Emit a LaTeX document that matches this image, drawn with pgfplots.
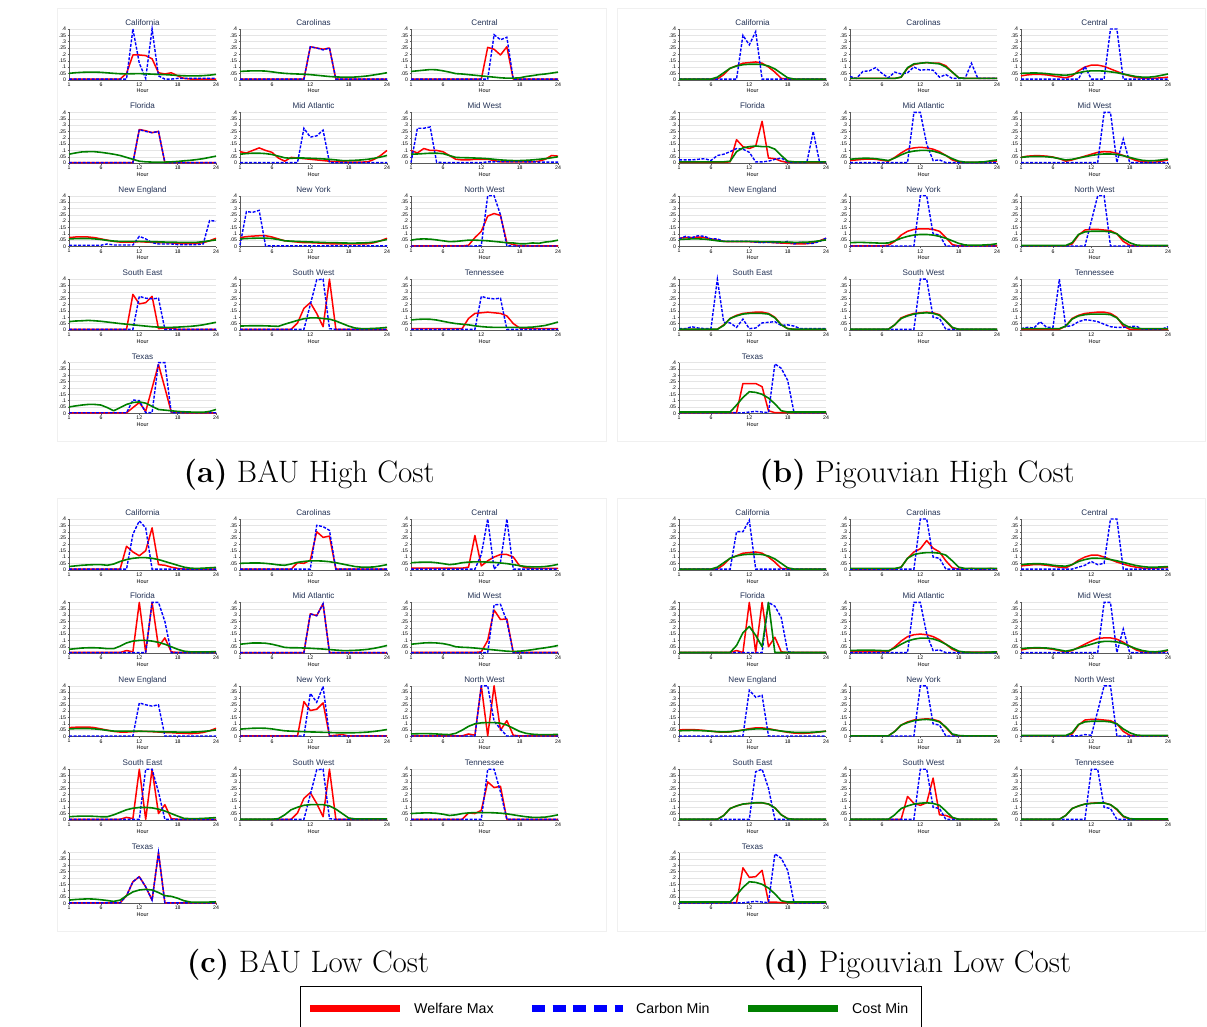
\documentclass[border=0pt]{standalone}
\usepackage{pgfplots}
\pgfplotsset{compat=1.18}
\usepackage{fontspec}
\newfontfamily\plotfont{Liberation Sans}

\definecolor{wmax}{RGB}{255,0,0}
\definecolor{cmin}{RGB}{0,0,255}
\definecolor{costmin}{RGB}{0,128,0}
\definecolor{ttl}{RGB}{35,50,85}
\definecolor{axisgray}{RGB}{90,90,90}

\pgfplotsset{
  hourplot/.style={
    scale only axis, width=147pt, height=50.7pt,
    xmin=1, xmax=24, ymin=0, ymax=0.4,
    clip=false,
    axis x line*=bottom, axis y line*=left,
    axis line style={-, draw=axisgray, line width=0.35pt},
    xtick={1,6,12,18,24}, xticklabels={1,6,12,18,24},
    ytick={0,0.05,0.1,0.15,0.2,0.25,0.3,0.35,0.4},
    yticklabels={0,.05,.1,.15,.2,.25,.3,.35,.4},
    ymajorgrids, major grid style={draw=black!10, line width=0.35pt},
    tick align=outside, major tick length=1.5pt,
    tick style={draw=axisgray, line width=0.35pt},
    tick label style={font=\plotfont\fontsize{5.2}{6}\selectfont, inner sep=0pt},
    xticklabel style={anchor=north, yshift=-1.2pt},
    yticklabel style={anchor=east, xshift=-1.2pt},
    xlabel={Hour},
    xlabel style={font=\plotfont\fontsize{5.5}{6}\selectfont, at={(axis description cs:0.5,0)}, anchor=base, yshift=-13.3pt, inner sep=0pt},
    title style={font=\plotfont\fontsize{8.1}{9}\selectfont, text=ttl, at={(axis description cs:0.5,1)}, anchor=base, yshift=-2.5pt, inner sep=0pt},
    anchor=south west,
  },
  wm/.style={color=wmax, line width=1.5pt, line join=round, no markers},
  cm/.style={color=cmin, line width=1.4pt, dash pattern=on 3pt off 1.5pt, no markers},
  co/.style={color=costmin, line width=1.6pt, line join=round, no markers},
}

% one hourly series: #1 plot style, #2 the 24 hourly values
\newcommand\hourly[2]{%
  \gdef\hourcoords{}%
  \foreach \v [count=\h] in {#2}{\xdef\hourcoords{\hourcoords(\h,\v)}}%
  \edef\next{\noexpand\addplot[#1] coordinates {\hourcoords};}\next}

% one region: #1 x of the plot box, #2 depth of its zero line,
% #3 region name, #4 welfare max, #5 carbon min, #6 cost min
\newcommand\region[6]{%
  \begin{axis}[hourplot, at={(#1pt,-#2pt)}, title={#3}]
    \hourly{wm}{#4}
    \hourly{cm}{#5}
    \hourly{co}{#6}
  \end{axis}}

\begin{document}
\begin{tikzpicture}
\path[use as bounding box] (0pt,0pt) rectangle (1207pt,-1027pt);
\fill[white] (0pt,0pt) rectangle (1207pt,-1027pt);

% panel frames
\draw[black!6, line width=0.6pt] (57pt,-8pt) rectangle (606pt,-441pt);
\draw[black!6, line width=0.6pt] (617pt,-8pt) rectangle (1205pt,-441pt);
\draw[black!6, line width=0.6pt] (57pt,-498pt) rectangle (606pt,-931pt);
\draw[black!6, line width=0.6pt] (617pt,-498pt) rectangle (1205pt,-931pt);

%%%%%%%%%%%%%%%% (a) BAU High Cost
\region{69}{79.7}{California}
 {.005,.005,.005,.005,.005,.005,.005,.005,.005,.05,.195,.195,.19,.165,.055,.045,.055,.03,.01,.005,.005,.005,.005,.005}
 {.005,.005,.005,.005,.005,.005,.005,.005,.005,.005,.4,.13,.01,.4,.03,.005,.005,.01,.01,.01,.01,.01,.01,.01}
 {.05,.055,.058,.06,.06,.058,.054,.05,.047,.046,.047,.048,.046,.044,.042,.04,.037,.034,.031,.03,.03,.032,.036,.042}
\region{240}{79.7}{Carolinas}
 {.004,.004,.004,.004,.004,.004,.004,.004,.004,.004,.004,.26,.25,.24,.25,.004,.004,.004,.004,.004,.004,.004,.004,.004}
 {.004,.004,.004,.004,.004,.004,.004,.004,.004,.004,.004,.26,.25,.235,.25,.004,.004,.004,.004,.004,.004,.004,.004,.004}
 {.065,.068,.07,.07,.068,.062,.055,.05,.047,.045,.043,.04,.035,.03,.025,.022,.02,.02,.021,.025,.03,.038,.046,.055}
\region{411}{79.7}{Central}
 {.004,.004,.004,.004,.004,.004,.004,.004,.004,.004,.004,.004,.255,.24,.195,.26,.004,.004,.004,.004,.004,.004,.004,.004}
 {.004,.004,.004,.004,.004,.004,.004,.004,.004,.004,.004,.004,.004,.355,.315,.335,.004,.004,.004,.004,.004,.004,.004,.004}
 {.065,.07,.075,.08,.078,.07,.06,.048,.045,.04,.035,.03,.025,.02,.015,.012,.012,.015,.025,.032,.04,.045,.052,.06}
\region{69}{163.1}{Florida}
 {.004,.004,.004,.004,.004,.004,.004,.004,.004,.004,.004,.265,.255,.24,.25,.004,.004,.004,.004,.004,.004,.004,.004,.004}
 {.004,.004,.004,.004,.004,.004,.004,.004,.004,.004,.004,.265,.25,.24,.25,.004,.004,.004,.004,.004,.004,.004,.004,.004}
 {.07,.08,.088,.09,.09,.085,.078,.07,.06,.045,.03,.015,.01,.008,.008,.008,.01,.013,.018,.022,.028,.035,.045,.055}
\region{240}{163.1}{Mid Atlantic}
 {.09,.08,.1,.12,.1,.085,.04,.015,.045,.04,.035,.03,.025,.02,.015,.01,.01,.008,.008,.008,.01,.03,.06,.1}
 {.004,.004,.004,.004,.004,.004,.004,.004,.004,.004,.275,.205,.215,.26,.004,.004,.004,.004,.004,.004,.004,.004,.004,.004}
 {.07,.075,.078,.078,.075,.068,.055,.042,.038,.04,.04,.038,.036,.033,.03,.025,.02,.02,.022,.025,.03,.038,.048,.06}
\region{411}{163.1}{Mid West}
 {.1,.08,.115,.1,.1,.09,.06,.03,.025,.025,.03,.03,.03,.02,.01,.01,.01,.01,.01,.01,.015,.03,.06,.055}
 {.004,.275,.275,.285,.008,.004,.004,.004,.004,.004,.004,.004,.01,.01,.012,.012,.012,.012,.01,.01,.008,.008,.008,.008}
 {.07,.072,.075,.078,.078,.075,.06,.045,.043,.042,.04,.038,.035,.03,.025,.022,.02,.02,.022,.025,.03,.035,.042,.05}
\region{69}{246.5}{New England}
 {.07,.075,.075,.075,.07,.06,.05,.04,.035,.035,.035,.038,.035,.033,.03,.03,.028,.025,.023,.023,.025,.03,.045,.065}
 {.01,.01,.01,.01,.01,.01,.02,.012,.012,.012,.012,.08,.06,.03,.02,.02,.02,.015,.015,.015,.015,.02,.205,.2}
 {.06,.062,.063,.063,.06,.055,.048,.043,.04,.04,.04,.04,.04,.038,.037,.035,.035,.033,.032,.032,.033,.038,.045,.052}
\region{240}{246.5}{New York}
 {.07,.078,.082,.085,.085,.075,.06,.045,.04,.035,.03,.03,.028,.025,.022,.02,.02,.02,.02,.02,.022,.03,.045,.065}
 {.01,.275,.27,.285,.005,.005,.005,.005,.005,.005,.005,.005,.005,.005,.005,.005,.005,.005,.005,.005,.005,.005,.005,.005}
 {.06,.063,.065,.066,.066,.063,.055,.045,.042,.04,.038,.036,.034,.032,.03,.03,.028,.027,.027,.028,.03,.035,.045,.055}
\region{411}{246.5}{North West}
 {.004,.004,.004,.004,.004,.004,.004,.004,.004,.01,.07,.12,.24,.26,.245,.03,.015,.005,.004,.004,.004,.004,.004,.004}
 {.004,.004,.004,.004,.004,.004,.004,.004,.004,.004,.004,.008,.4,.4,.25,.005,.004,.004,.004,.004,.004,.004,.004,.004}
 {.05,.058,.06,.058,.052,.045,.038,.04,.045,.05,.05,.048,.045,.04,.035,.03,.028,.022,.022,.028,.025,.035,.04,.05}
\region{69}{329.9}{South East}
 {.004,.004,.004,.004,.004,.004,.004,.004,.004,.004,.28,.205,.215,.265,.01,.015,.015,.004,.004,.004,.004,.004,.004,.004}
 {.004,.004,.004,.004,.004,.004,.004,.004,.004,.004,.004,.265,.25,.245,.25,.004,.004,.004,.004,.004,.004,.004,.004,.004}
 {.065,.07,.072,.075,.072,.068,.062,.056,.05,.045,.04,.035,.03,.025,.022,.02,.02,.022,.025,.028,.033,.04,.05,.06}
\region{240}{329.9}{South West}
 {.004,.004,.004,.004,.004,.004,.004,.004,.004,.055,.17,.215,.13,.025,.4,.004,.004,.004,.004,.004,.004,.004,.004,.004}
 {.004,.004,.004,.004,.004,.004,.004,.004,.004,.004,.004,.2,.395,.4,.01,.004,.004,.004,.004,.004,.004,.004,.004,.004}
 {.03,.032,.033,.033,.032,.03,.028,.045,.06,.075,.088,.095,.095,.09,.085,.07,.05,.03,.015,.01,.01,.012,.015,.02}
\region{411}{329.9}{Tennessee}
 {.01,.01,.01,.01,.01,.01,.01,.01,.01,.09,.13,.135,.14,.135,.13,.11,.05,.015,.015,.01,.01,.01,.01,.01}
 {.004,.004,.004,.004,.004,.004,.004,.004,.004,.004,.004,.265,.25,.245,.25,.004,.004,.004,.004,.004,.004,.004,.004,.004}
 {.078,.083,.085,.084,.078,.068,.058,.05,.045,.04,.032,.026,.022,.02,.02,.02,.02,.02,.02,.022,.028,.035,.048,.062}
\region{69}{413.3}{Texas}
 {.004,.004,.004,.004,.004,.004,.004,.004,.004,.004,.045,.085,.015,.2,.385,.2,.01,.01,.004,.004,.004,.004,.004,.004}
 {.004,.004,.004,.004,.004,.004,.004,.004,.004,.004,.105,.1,.005,.005,.4,.4,.004,.004,.004,.004,.004,.004,.004,.004}
 {.05,.058,.065,.07,.07,.065,.045,.02,.045,.07,.085,.09,.08,.055,.03,.025,.02,.015,.012,.01,.008,.008,.015,.03}

%%%%%%%%%%%%%%%% (b) Pigouvian High Cost
\region{679}{79.7}{California}
 {.005,.005,.005,.005,.005,.005,.005,.04,.09,.11,.13,.135,.14,.13,.1,.06,.01,.005,.005,.005,.005,.005,.005,.005}
 {.004,.004,.004,.004,.004,.004,.004,.004,.004,.004,.35,.275,.38,.004,.004,.004,.004,.004,.004,.004,.004,.004,.004,.004}
 {.005,.005,.005,.005,.005,.005,.02,.055,.09,.108,.118,.122,.122,.12,.108,.085,.05,.015,.005,.005,.005,.005,.005,.005}
\region{850}{79.7}{Carolinas}
 {.01,.01,.01,.01,.01,.01,.01,.01,.02,.09,.12,.13,.135,.13,.13,.11,.06,.015,.01,.01,.01,.01,.01,.01}
 {.025,.01,.065,.07,.095,.05,.015,.06,.045,.055,.1,.075,.08,.075,.02,.04,.01,.01,.01,.13,.01,.01,.01,.01}
 {.01,.01,.01,.01,.01,.01,.01,.01,.02,.095,.125,.13,.135,.13,.125,.1,.06,.015,.01,.01,.01,.01,.01,.01}
\region{1021}{79.7}{Central}
 {.03,.038,.042,.042,.038,.03,.022,.015,.03,.07,.1,.115,.115,.105,.085,.065,.045,.03,.018,.012,.01,.012,.015,.02}
 {.004,.004,.004,.004,.004,.004,.004,.004,.004,.005,.105,.005,.005,.005,.4,.4,.004,.004,.004,.004,.004,.004,.004,.004}
 {.05,.052,.053,.052,.048,.042,.038,.035,.042,.055,.065,.07,.07,.068,.062,.055,.045,.035,.025,.02,.02,.025,.035,.045}
\region{679}{163.1}{Florida}
 {.005,.005,.005,.005,.005,.005,.005,.005,.01,.185,.13,.115,.135,.33,.04,.035,.015,.005,.005,.005,.005,.005,.005,.005}
 {.025,.025,.025,.03,.035,.02,.06,.07,.09,.115,.11,.085,.01,.01,.015,.03,.04,.01,.005,.005,.005,.25,.005,.005}
 {.01,.01,.01,.01,.01,.01,.01,.01,.015,.09,.12,.13,.135,.13,.13,.11,.06,.015,.01,.01,.01,.01,.01,.01}
\region{850}{163.1}{Mid Atlantic}
 {.02,.025,.03,.032,.03,.022,.015,.045,.08,.11,.12,.125,.12,.11,.09,.06,.025,.008,.005,.005,.005,.008,.012,.015}
 {.004,.004,.004,.004,.004,.004,.004,.004,.004,.004,.4,.4,.15,.02,.025,.004,.004,.004,.004,.004,.004,.004,.004,.004}
 {.03,.035,.038,.038,.035,.028,.02,.04,.065,.085,.095,.1,.1,.095,.08,.06,.035,.015,.008,.008,.008,.01,.018,.025}
\region{1021}{163.1}{Mid West}
 {.045,.055,.058,.058,.055,.048,.035,.015,.025,.04,.055,.07,.085,.09,.088,.078,.06,.04,.02,.01,.008,.008,.015,.025}
 {.004,.004,.004,.004,.004,.004,.004,.004,.004,.004,.004,.004,.004,.4,.4,.005,.19,.004,.004,.004,.004,.004,.004,.004}
 {.045,.05,.052,.052,.05,.045,.035,.025,.03,.04,.05,.06,.068,.072,.072,.068,.058,.045,.032,.022,.018,.02,.025,.032}
\region{679}{246.5}{New England}
 {.065,.07,.07,.075,.07,.06,.05,.04,.038,.038,.038,.038,.035,.035,.033,.03,.027,.025,.022,.02,.022,.03,.045,.065}
 {.06,.08,.07,.085,.08,.06,.06,.04,.04,.04,.04,.04,.035,.03,.035,.03,.03,.04,.02,.035,.025,.025,.04,.065}
 {.055,.058,.06,.06,.058,.052,.045,.04,.04,.04,.04,.04,.04,.038,.038,.037,.035,.034,.033,.033,.034,.038,.045,.052}
\region{850}{246.5}{New York}
 {.005,.005,.005,.005,.005,.005,.01,.04,.09,.12,.135,.14,.14,.135,.12,.07,.015,.005,.005,.005,.005,.005,.005,.005}
 {.004,.004,.004,.004,.004,.004,.004,.004,.004,.004,.004,.4,.4,.1,.09,.004,.004,.004,.004,.004,.004,.004,.004,.004}
 {.03,.032,.032,.03,.028,.026,.028,.045,.065,.08,.09,.095,.095,.09,.08,.065,.045,.025,.012,.01,.01,.012,.015,.022}
\region{1021}{246.5}{North West}
 {.005,.005,.005,.005,.005,.005,.005,.005,.02,.09,.13,.135,.135,.13,.125,.1,.04,.01,.005,.005,.005,.005,.005,.005}
 {.004,.004,.004,.004,.004,.004,.004,.004,.004,.004,.004,.2,.4,.4,.004,.004,.004,.004,.004,.004,.004,.004,.004,.004}
 {.008,.008,.008,.008,.008,.008,.008,.008,.03,.095,.115,.12,.12,.12,.115,.1,.06,.03,.012,.008,.008,.008,.008,.008}
\region{679}{329.9}{South East}
 {.005,.005,.005,.005,.005,.005,.005,.04,.09,.115,.13,.135,.14,.14,.13,.1,.04,.01,.005,.005,.005,.005,.005,.005}
 {.01,.01,.025,.015,.01,.01,.4,.06,.055,.02,.085,.01,.015,.055,.06,.065,.035,.04,.03,.01,.01,.01,.01,.01}
 {.005,.005,.005,.005,.005,.005,.005,.035,.09,.11,.125,.13,.13,.13,.125,.095,.04,.01,.005,.005,.005,.005,.005,.005}
\region{850}{329.9}{South West}
 {.005,.005,.005,.005,.005,.005,.005,.04,.095,.115,.13,.135,.14,.135,.12,.07,.015,.005,.005,.005,.005,.005,.005,.005}
 {.004,.004,.004,.004,.004,.004,.004,.004,.004,.004,.004,.4,.4,.1,.09,.004,.004,.004,.004,.004,.004,.004,.004,.004}
 {.005,.005,.005,.005,.005,.005,.005,.04,.09,.11,.125,.132,.135,.13,.115,.07,.02,.005,.005,.005,.005,.005,.005,.005}
\region{1021}{329.9}{Tennessee}
 {.005,.005,.005,.005,.005,.005,.005,.03,.09,.115,.13,.135,.14,.14,.13,.1,.03,.005,.005,.005,.005,.005,.005,.005}
 {.01,.02,.015,.065,.02,.02,.4,.025,.035,.065,.08,.075,.065,.045,.025,.02,.02,.025,.03,.005,.005,.005,.005,.025}
 {.01,.01,.01,.01,.01,.01,.01,.03,.085,.11,.12,.125,.125,.125,.12,.095,.045,.02,.012,.01,.01,.01,.01,.01}
\region{679}{413.3}{Texas}
 {.005,.005,.005,.005,.005,.005,.005,.005,.005,.005,.235,.235,.235,.21,.02,.005,.005,.005,.005,.005,.005,.005,.005,.005}
 {.004,.004,.004,.004,.004,.004,.004,.004,.004,.004,.004,.01,.015,.01,.005,.39,.355,.26,.004,.004,.004,.004,.004,.004}
 {.01,.01,.01,.01,.01,.01,.01,.01,.01,.065,.125,.17,.165,.15,.12,.075,.02,.01,.01,.01,.01,.01,.01,.01}

%%%%%%%%%%%%%%%% (c) BAU Low Cost
\region{69}{569.7}{California}
 {.005,.005,.005,.005,.005,.005,.005,.005,.005,.185,.14,.11,.15,.33,.04,.035,.02,.01,.005,.005,.005,.005,.005,.005}
 {.004,.004,.004,.004,.004,.004,.004,.004,.004,.004,.28,.385,.33,.004,.004,.004,.004,.004,.004,.004,.004,.004,.004,.004}
 {.025,.03,.035,.038,.04,.04,.035,.045,.065,.08,.09,.095,.095,.09,.08,.065,.05,.035,.02,.012,.01,.012,.015,.018}
\region{240}{569.7}{Carolinas}
 {.004,.004,.004,.004,.004,.004,.004,.004,.004,.055,.05,.075,.3,.255,.265,.004,.004,.004,.004,.004,.004,.004,.004,.004}
 {.004,.004,.004,.004,.004,.004,.004,.004,.004,.004,.004,.004,.35,.34,.31,.004,.004,.004,.004,.004,.004,.004,.004,.004}
 {.05,.052,.053,.053,.05,.045,.038,.035,.045,.058,.065,.07,.07,.068,.063,.055,.045,.035,.025,.02,.02,.022,.03,.04}
\region{411}{569.7}{Central}
 {.012,.012,.012,.012,.012,.012,.012,.012,.012,.02,.27,.03,.07,.1,.12,.12,.1,.03,.015,.012,.01,.01,.01,.01}
 {.004,.004,.004,.004,.004,.004,.004,.004,.004,.004,.004,.12,.4,.005,.06,.4,.004,.004,.004,.004,.004,.004,.004,.004}
 {.055,.058,.06,.06,.055,.048,.04,.045,.055,.06,.062,.062,.06,.058,.053,.048,.04,.032,.025,.022,.022,.025,.032,.042}
\region{69}{653.1}{Florida}
 {.005,.005,.005,.005,.005,.005,.005,.005,.005,.02,.01,.4,.005,.4,.05,.12,.01,.005,.005,.005,.005,.005,.005,.005}
 {.004,.004,.004,.004,.004,.004,.004,.004,.004,.004,.004,.004,.004,.4,.4,.25,.004,.004,.004,.004,.004,.004,.004,.004}
 {.03,.035,.04,.042,.042,.04,.035,.035,.055,.08,.095,.1,.1,.095,.085,.07,.05,.03,.015,.01,.01,.01,.01,.012}
\region{240}{653.1}{Mid Atlantic}
 {.004,.004,.004,.004,.004,.004,.004,.004,.004,.004,.004,.31,.295,.39,.004,.004,.004,.004,.004,.004,.004,.004,.004,.004}
 {.004,.004,.004,.004,.004,.004,.004,.004,.004,.004,.004,.31,.295,.39,.004,.004,.004,.004,.004,.004,.004,.004,.004,.004}
 {.07,.075,.08,.08,.078,.07,.058,.045,.042,.042,.04,.038,.035,.032,.028,.024,.02,.02,.022,.025,.03,.038,.048,.06}
\region{411}{653.1}{Mid West}
 {.005,.005,.005,.005,.005,.005,.005,.005,.005,.005,.005,.01,.1,.34,.265,.27,.005,.005,.005,.005,.005,.005,.005,.005}
 {.004,.004,.004,.004,.004,.004,.004,.004,.004,.004,.004,.004,.004,.38,.385,.25,.004,.004,.004,.004,.004,.004,.004,.004}
 {.07,.075,.08,.082,.08,.075,.065,.05,.046,.044,.04,.035,.03,.025,.02,.015,.013,.015,.02,.027,.035,.042,.05,.06}
\region{69}{736.5}{New England}
 {.07,.073,.075,.075,.07,.06,.05,.04,.035,.035,.038,.04,.04,.038,.035,.032,.03,.027,.025,.023,.025,.032,.045,.065}
 {.004,.004,.004,.004,.004,.004,.004,.004,.004,.004,.004,.265,.25,.24,.25,.004,.004,.004,.004,.004,.004,.004,.004,.004}
 {.06,.062,.063,.063,.06,.055,.048,.043,.042,.042,.042,.042,.04,.04,.038,.037,.036,.035,.035,.035,.036,.04,.045,.052}
\region{240}{736.5}{New York}
 {.004,.004,.004,.004,.004,.004,.004,.004,.004,.004,.275,.205,.215,.265,.005,.01,.015,.004,.004,.004,.004,.004,.004,.004}
 {.004,.004,.004,.004,.004,.004,.004,.004,.004,.004,.004,.34,.27,.395,.004,.004,.004,.004,.004,.004,.004,.004,.004,.004}
 {.058,.062,.065,.066,.065,.06,.052,.045,.042,.04,.038,.036,.035,.033,.032,.03,.03,.03,.03,.032,.035,.04,.047,.055}
\region{411}{736.5}{North West}
 {.005,.005,.005,.005,.005,.005,.005,.005,.005,.02,.01,.4,.005,.4,.05,.125,.01,.005,.005,.005,.005,.005,.005,.005}
 {.004,.004,.004,.004,.004,.004,.004,.004,.004,.004,.004,.4,.4,.12,.06,.004,.004,.004,.004,.004,.004,.004,.004,.004}
 {.02,.022,.023,.022,.02,.017,.015,.025,.05,.08,.1,.108,.11,.11,.105,.09,.065,.04,.025,.018,.015,.015,.015,.017}
\region{69}{819.9}{South East}
 {.005,.005,.005,.005,.005,.005,.005,.005,.005,.02,.01,.4,.005,.4,.05,.12,.01,.005,.005,.005,.005,.005,.005,.005}
 {.004,.004,.004,.004,.004,.004,.004,.004,.004,.004,.004,.004,.4,.4,.22,.004,.004,.004,.004,.004,.004,.004,.004,.004}
 {.025,.028,.03,.03,.028,.025,.025,.04,.06,.08,.092,.098,.098,.095,.085,.07,.05,.03,.012,.01,.01,.012,.015,.018}
\region{240}{819.9}{South West}
 {.004,.004,.004,.004,.004,.004,.004,.004,.004,.055,.17,.215,.13,.025,.4,.004,.004,.004,.004,.004,.004,.004,.004,.004}
 {.004,.004,.004,.004,.004,.004,.004,.004,.004,.004,.004,.2,.395,.4,.01,.004,.004,.004,.004,.004,.004,.004,.004,.004}
 {.005,.005,.005,.005,.005,.005,.01,.04,.08,.1,.115,.12,.12,.12,.11,.085,.05,.015,.008,.008,.008,.008,.008,.008}
\region{411}{819.9}{Tennessee}
 {.004,.004,.004,.004,.004,.004,.004,.004,.004,.055,.05,.075,.3,.255,.265,.004,.004,.004,.004,.004,.004,.004,.004,.004}
 {.004,.004,.004,.004,.004,.004,.004,.004,.004,.004,.004,.004,.4,.4,.22,.004,.004,.004,.004,.004,.004,.004,.004,.004}
 {.05,.053,.055,.055,.052,.045,.035,.04,.05,.055,.058,.058,.058,.056,.053,.048,.04,.032,.025,.02,.02,.022,.03,.04}
\region{69}{903.3}{Texas}
 {.004,.004,.004,.004,.004,.004,.004,.004,.004,.06,.17,.21,.13,.025,.4,.004,.004,.004,.004,.004,.004,.004,.004,.004}
 {.004,.004,.004,.004,.004,.004,.004,.004,.004,.06,.17,.21,.13,.025,.4,.004,.004,.004,.004,.004,.004,.004,.004,.004}
 {.025,.03,.033,.035,.033,.028,.022,.015,.025,.06,.09,.105,.11,.105,.085,.06,.055,.04,.02,.01,.008,.008,.01,.012}

%%%%%%%%%%%%%%%% (d) Pigouvian Low Cost
\region{679}{569.7}{California}
 {.005,.005,.005,.005,.005,.005,.005,.04,.09,.11,.13,.135,.14,.13,.1,.06,.01,.005,.005,.005,.005,.005,.005,.005}
 {.004,.004,.004,.004,.004,.004,.004,.004,.004,.3,.3,.39,.004,.004,.004,.004,.004,.004,.004,.004,.004,.004,.004,.004}
 {.005,.005,.005,.005,.005,.005,.02,.055,.09,.108,.118,.122,.122,.12,.108,.085,.05,.015,.005,.005,.005,.005,.005,.005}
\region{850}{569.7}{Carolinas}
 {.005,.005,.005,.005,.005,.005,.005,.005,.02,.09,.14,.165,.23,.17,.14,.07,.015,.005,.005,.01,.005,.005,.01,.005}
 {.004,.004,.004,.004,.004,.004,.004,.004,.004,.004,.004,.4,.4,.1,.09,.004,.004,.004,.004,.004,.004,.004,.004,.004}
 {.01,.01,.01,.01,.01,.01,.01,.01,.02,.09,.12,.13,.135,.135,.13,.115,.07,.02,.01,.01,.01,.01,.01,.01}
\region{1021}{569.7}{Central}
 {.03,.035,.04,.04,.035,.028,.02,.015,.04,.075,.1,.115,.115,.1,.08,.06,.045,.03,.02,.013,.01,.012,.015,.018}
 {.005,.005,.005,.005,.005,.005,.005,.005,.005,.02,.035,.065,.04,.05,.4,.4,.005,.005,.005,.005,.005,.005,.005,.005}
 {.04,.045,.047,.047,.043,.035,.03,.028,.04,.065,.08,.09,.09,.088,.08,.07,.058,.045,.033,.025,.02,.02,.022,.025}
\region{679}{653.1}{Florida}
 {.005,.005,.005,.005,.005,.005,.005,.005,.005,.02,.005,.4,.005,.4,.05,.125,.01,.005,.005,.005,.005,.005,.005,.005}
 {.005,.005,.005,.005,.005,.005,.005,.005,.005,.005,.005,.005,.005,.005,.4,.37,.28,.01,.005,.005,.005,.005,.005,.005}
 {.005,.005,.005,.005,.005,.005,.005,.005,.005,.06,.16,.21,.14,.05,.4,.005,.005,.005,.005,.005,.005,.005,.005,.005}
\region{850}{653.1}{Mid Atlantic}
 {.01,.01,.01,.01,.01,.01,.01,.05,.095,.13,.145,.15,.145,.13,.105,.07,.03,.01,.008,.008,.008,.008,.008,.008}
 {.004,.004,.004,.004,.004,.004,.004,.004,.004,.004,.4,.4,.15,.02,.025,.004,.004,.004,.004,.004,.004,.004,.004,.004}
 {.02,.022,.024,.024,.022,.02,.018,.04,.07,.095,.11,.118,.118,.112,.095,.07,.04,.015,.008,.006,.006,.006,.008,.01}
\region{1021}{653.1}{Mid West}
 {.025,.035,.04,.04,.037,.03,.02,.01,.02,.045,.07,.095,.115,.12,.12,.11,.085,.055,.025,.01,.005,.005,.01,.02}
 {.004,.004,.004,.004,.004,.004,.004,.004,.004,.004,.004,.004,.004,.4,.4,.005,.19,.004,.004,.004,.004,.004,.004,.004}
 {.035,.04,.042,.042,.04,.035,.025,.015,.025,.04,.055,.07,.085,.092,.092,.088,.075,.055,.035,.02,.012,.01,.015,.025}
\region{679}{736.5}{New England}
 {.052,.055,.055,.052,.048,.042,.036,.034,.036,.042,.052,.062,.068,.068,.062,.052,.042,.033,.027,.025,.026,.03,.036,.042}
 {.004,.004,.004,.004,.004,.004,.004,.004,.004,.004,.004,.365,.31,.325,.004,.004,.004,.004,.004,.004,.004,.004,.004,.004}
 {.045,.047,.048,.047,.045,.042,.038,.036,.038,.044,.05,.056,.06,.06,.057,.05,.043,.037,.033,.032,.032,.034,.037,.042}
\region{850}{736.5}{New York}
 {.005,.005,.005,.005,.005,.005,.005,.04,.09,.115,.13,.135,.14,.135,.12,.07,.015,.005,.005,.005,.005,.005,.005,.005}
 {.004,.004,.004,.004,.004,.004,.004,.004,.004,.004,.004,.4,.4,.1,.09,.004,.004,.004,.004,.004,.004,.004,.004,.004}
 {.005,.005,.005,.005,.005,.005,.005,.04,.09,.11,.125,.132,.135,.13,.115,.075,.02,.008,.005,.005,.005,.005,.005,.005}
\region{1021}{736.5}{North West}
 {.005,.005,.005,.005,.005,.005,.005,.005,.02,.09,.13,.135,.135,.13,.125,.1,.04,.01,.005,.005,.005,.005,.005,.005}
 {.005,.005,.005,.005,.005,.005,.005,.005,.005,.005,.015,.01,.2,.4,.4,.004,.004,.004,.004,.004,.004,.004,.004,.004}
 {.008,.008,.008,.008,.008,.008,.008,.008,.03,.095,.115,.12,.12,.12,.115,.1,.06,.03,.012,.008,.008,.008,.008,.008}
\region{679}{819.9}{South East}
 {.005,.005,.005,.005,.005,.005,.005,.035,.09,.11,.125,.13,.135,.135,.125,.095,.04,.01,.005,.005,.005,.005,.005,.005}
 {.004,.004,.004,.004,.004,.004,.004,.004,.004,.004,.004,.004,.38,.4,.25,.004,.004,.004,.004,.004,.004,.004,.004,.004}
 {.005,.005,.005,.005,.005,.005,.005,.035,.09,.11,.125,.13,.135,.135,.125,.095,.04,.01,.005,.005,.005,.005,.005,.005}
\region{850}{819.9}{South West}
 {.005,.005,.005,.005,.005,.005,.005,.005,.005,.185,.13,.115,.135,.33,.04,.035,.015,.005,.005,.005,.005,.005,.005,.005}
 {.004,.004,.004,.004,.004,.004,.004,.004,.004,.004,.004,.4,.4,.1,.09,.004,.004,.004,.004,.004,.004,.004,.004,.004}
 {.005,.005,.005,.005,.005,.005,.005,.04,.09,.11,.125,.132,.135,.13,.115,.07,.02,.005,.005,.005,.005,.005,.005,.005}
\region{1021}{819.9}{Tennessee}
 {.005,.005,.005,.005,.005,.005,.005,.035,.09,.11,.125,.132,.135,.135,.12,.08,.025,.008,.005,.005,.005,.005,.005,.005}
 {.004,.004,.004,.004,.004,.004,.004,.004,.004,.004,.004,.4,.4,.1,.09,.004,.004,.004,.004,.004,.004,.004,.004,.004}
 {.005,.005,.005,.005,.005,.005,.005,.035,.09,.11,.125,.13,.133,.133,.12,.085,.03,.01,.007,.007,.007,.007,.007,.007}
\region{679}{903.3}{Texas}
 {.005,.005,.005,.005,.005,.005,.005,.005,.005,.005,.28,.205,.21,.26,.01,.01,.005,.005,.005,.005,.005,.005,.005,.005}
 {.004,.004,.004,.004,.004,.004,.004,.004,.004,.004,.004,.01,.015,.01,.005,.39,.355,.26,.004,.004,.004,.004,.004,.004}
 {.01,.01,.01,.01,.01,.01,.01,.01,.01,.065,.125,.17,.165,.15,.12,.075,.02,.01,.01,.01,.01,.01,.01,.01}

% panel captions
\node[font=\fontsize{31}{33}\selectfont, anchor=base, inner sep=0pt] at (309pt,-482pt) {\textbf{(a)} BAU High Cost};
\node[font=\fontsize{31}{33}\selectfont, anchor=base, inner sep=0pt] at (917pt,-482pt) {\textbf{(b)} Pigouvian High Cost};
\node[font=\fontsize{31}{33}\selectfont, anchor=base, inner sep=0pt] at (308pt,-972pt) {\textbf{(c)} BAU Low Cost};
\node[font=\fontsize{31}{33}\selectfont, anchor=base, inner sep=0pt] at (917pt,-972pt) {\textbf{(d)} Pigouvian Low Cost};

% shared legend
\draw[black, line width=1pt] (300pt,-986pt) rectangle (921.5pt,-1027pt);
\draw[wmax, line width=7pt] (310pt,-1008pt) -- (400pt,-1008pt);
\node[font=\plotfont\fontsize{14.2}{16}\selectfont, anchor=west, inner sep=0pt] at (414pt,-1008pt) {Welfare Max};
\draw[cmin, line width=7pt, dash pattern=on 13pt off 7.7pt] (532pt,-1008pt) -- (623pt,-1008pt);
\node[font=\plotfont\fontsize{14.2}{16}\selectfont, anchor=west, inner sep=0pt] at (636pt,-1008pt) {Carbon Min};
\draw[costmin, line width=7pt] (748pt,-1008pt) -- (838pt,-1008pt);
\node[font=\plotfont\fontsize{14.2}{16}\selectfont, anchor=west, inner sep=0pt] at (852pt,-1008pt) {Cost Min};
\end{tikzpicture}
\end{document}
